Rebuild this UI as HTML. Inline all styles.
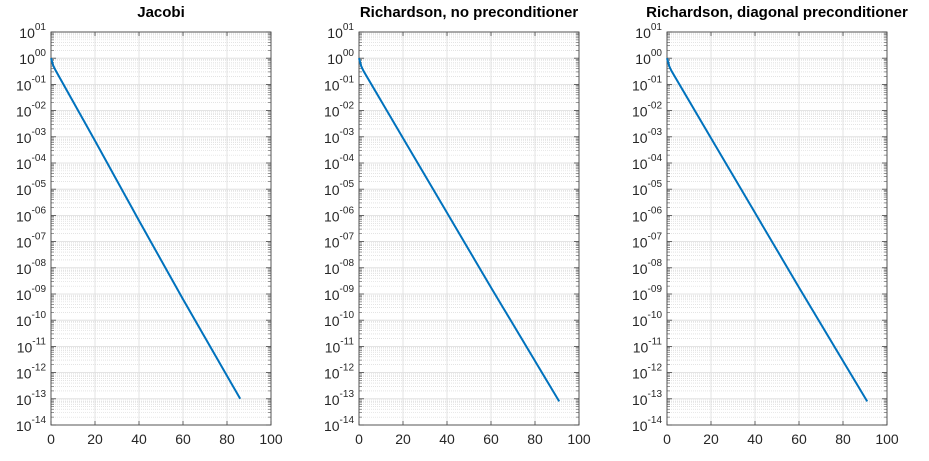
<!DOCTYPE html>
<html><head><meta charset="utf-8">
<style>body{margin:0;background:#fff;font-family:"Liberation Sans",sans-serif}svg text{font-family:"Liberation Sans",sans-serif}</style>
</head><body>
<svg id="fig" width="929" height="456" xmlns="http://www.w3.org/2000/svg"></svg>
<script>
const titles = ["Jacobi","Richardson, no preconditioner","Richardson, diagonal preconditioner"];
const xTicks = [0,20,40,60,80,100];
const yDecades = [1,0,-1,-2,-3,-4,-5,-6,-7,-8,-9,-10,-11,-12,-13,-14];
const jacobiIter = [0,1,2,20,40,60,86];
const jacobiLog = [0,-0.28,-0.45,-3.15,-6.2,-9.2,-13.0];
const richIter = [0,1,2,20,40,60,91];
const richLog = [0,-0.3,-0.48,-3.05,-5.9,-8.75,-13.1];
const diagIter = [0,1,2,20,40,60,91];
const diagLog = [0,-0.3,-0.48,-3.05,-5.9,-8.75,-13.1];
const seriesX = [jacobiIter, richIter, diagIter];
const seriesY = [jacobiLog, richLog, diagLog];
const lefts = [51,359,667];
const W = 220, plotTop = 32, plotBottom = 425;
const NS = "http://www.w3.org/2000/svg";
const svg = document.getElementById('fig');
function mk(tag, attrs, parent){const e=document.createElementNS(NS,tag);for(const k in attrs)e.setAttribute(k,attrs[k]);(parent||svg).appendChild(e);return e;}
for(let p=0;p<3;p++){
  const L=lefts[p];
  const g=mk('g',{});
  
  
  const sx=v=>L+v/100*W;
  const sy=v=>plotTop+(1-v)/15*(plotBottom-plotTop);
  for(let d=1;d>-14;d--){for(let m=2;m<10;m++){const y=sy(d-1+Math.log10(m));
    const ln=mk('line',{x1:L,x2:L+W,y1:y,y2:y,stroke:'#d4d4d4','stroke-width':0.6,'stroke-dasharray':'1,1'},g);
    
    
    mk('line',{x1:L,x2:L+3,y1:y,y2:y,stroke:'#555','stroke-width':0.6},g);
    mk('line',{x1:L+W-3,x2:L+W,y1:y,y2:y,stroke:'#555','stroke-width':0.6},g);}}
  for(let i=0;i<xTicks.length;i++){const x=sx(xTicks[i]);
    const ln=mk('line',{x1:x,x2:x,y1:plotTop,y2:plotBottom,stroke:'#dcdcdc','stroke-width':0.8},g);
    
    
    mk('line',{x1:x,x2:x,y1:plotBottom,y2:plotBottom-4,stroke:'#444','stroke-width':0.8},g);
    mk('line',{x1:x,x2:x,y1:plotTop,y2:plotTop+4,stroke:'#444','stroke-width':0.8},g);
    const t=mk('text',{x:x,y:plotBottom+19,'font-size':14,fill:'#262626','text-anchor':'middle'},g);
    t.textContent=xTicks[i];
    
    }
  for(let i=0;i<yDecades.length;i++){const d=yDecades[i],y=sy(d);
    const ln=mk('line',{x1:L,x2:L+W,y1:y,y2:y,stroke:'#dcdcdc','stroke-width':0.8},g);
    
    
    mk('line',{x1:L,x2:L+5,y1:y,y2:y,stroke:'#444','stroke-width':0.8},g);
    mk('line',{x1:L+W-5,x2:L+W,y1:y,y2:y,stroke:'#444','stroke-width':0.8},g);
    const t=mk('text',{x:L-5,y:y+6,'font-size':14,fill:'#262626','text-anchor':'end'},g);
    
    
    const s=(d<0?'-':'')+String(Math.abs(d)).padStart(2,'0');
    const b=mk('tspan',{},t);b.textContent='10';
    const sp=mk('tspan',{dy:-8,'font-size':10},t);sp.textContent=s;}
  const box=mk('rect',{x:L,y:plotTop,width:W,height:plotBottom-plotTop,fill:'none',stroke:'#444','stroke-width':0.9},g);
  
  
  const X=seriesX[p],Y=seriesY[p];
  const pts=X.map((v,i)=>sx(v)+','+sy(Y[i])).join(' ');
  const pl=mk('polyline',{points:pts,fill:'none',stroke:'#0072bd','stroke-width':2},g);
  
  
  const tt=mk('text',{x:L+W/2,y:17,'font-size':15,'font-weight':'bold',fill:'#000','text-anchor':'middle'},g);
  tt.textContent=titles[p];
  
  
}
</script>
</body></html>
